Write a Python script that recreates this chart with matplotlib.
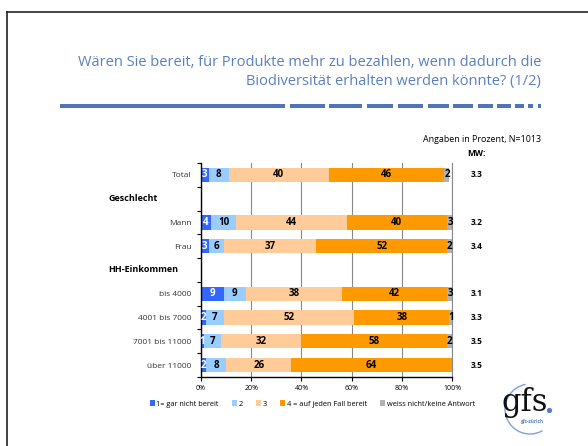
import matplotlib.pyplot as plt
from matplotlib.patches import Arc, Rectangle
from matplotlib.lines import Line2D

plt.rcParams['font.family'] = ['Open Sans', 'DejaVu Sans']

rows = ["Total", "", "Mann", "Frau", "", "bis 4000", "4001 bis 7000", "7001 bis 11000", "über 11000"]
headers = {1: "Geschlecht", 4: "HH-Einkommen"}
categories = ["1= gar nicht bereit", "2", "3", "4 = auf jeden Fall bereit", "weiss nicht/keine Antwort"]
s1 = [3, None, 4, 3, None, 9, 2, 1, 2]
s2 = [8, None, 10, 6, None, 9, 7, 7, 8]
s3 = [40, None, 44, 37, None, 38, 52, 32, 26]
s4 = [46, None, 40, 52, None, 42, 38, 58, 64]
s5 = [2, None, 3, 2, None, 3, 1, 2, 0]
mw = ["3.3", None, "3.2", "3.4", None, "3.1", "3.3", "3.5", "3.5"]
colors = ["#3366ff", "#99ccff", "#ffcc99", "#ff9900", "#b2b2b2"]

fig = plt.figure(figsize=(5.88, 4.46), dpi=100)

# slide frame
fig.add_artist(Line2D([7/588, 1], [1-12/446, 1-12/446], color="#222222", lw=1.2))
fig.add_artist(Line2D([7/588, 7/588], [0, 1-12/446], color="#222222", lw=1.2))

# title
title_col = "#5a7fc0"
fig.text(541/588, 1-62/446, "Wären Sie bereit, für Produkte mehr zu bezahlen, wenn dadurch die",
         ha="right", va="center", fontsize=10.5, color=title_col)
fig.text(541/588, 1-82/446, "Biodiversität erhalten werden könnte? (1/2)",
         ha="right", va="center", fontsize=10.5, color=title_col)

# dashed rule under title
line_col = "#4f74b8"
y_rule = 1-106/446
segs = [(60, 285), (290, 325), (329, 362), (367, 393), (398, 423), (428, 449), (453, 473),
        (478, 493), (497, 511), (515, 524), (528, 533), (538, 541)]
for a, b in segs:
    fig.add_artist(Rectangle((a/588, y_rule-2/446), (b-a)/588, 4/446, color=line_col, lw=0))

fig.text(541/588, 1-140/446, "Angaben in Prozent, N=1013", ha="right", va="center", fontsize=6.4)
fig.text(467/588, 1-153/446, "MW:", ha="left", va="center", fontsize=6, fontweight="bold")

ax = fig.add_axes([201/588, 1-377/446, 251/588, 214/446])
n = len(rows)
ypos = list(range(n))
series = [s1, s2, s3, s4, s5]
left = [0]*n
for k, s in enumerate(series):
    for i in range(n):
        if s[i] is None:
            continue
        ax.barh(ypos[i], s[i], left=left[i], height=0.6, color=colors[k], label=categories[k] if i == 0 else None)
        if s[i] > 0:
            ax.text(left[i] + s[i]/2, ypos[i], str(s[i]), ha="center", va="center", fontsize=7,
                    fontweight="bold", color="white" if k == 0 else "black")
        left[i] += s[i]

ax.set_xlim(0, 100)
ax.set_ylim(n-0.5, -0.5)
ax.set_xticks(range(0, 101, 20))
ax.set_xticklabels([f"{v}%" for v in range(0, 101, 20)], fontsize=5)
ax.set_yticks(ypos)
ax.set_yticklabels(rows, fontsize=6, color="#333333")
ax.tick_params(axis="y", length=0, pad=7)
ax.set_yticks([i+0.5 for i in range(-1, n)], minor=True)
ax.tick_params(axis="y", which="minor", length=3, width=0.8)
ax.tick_params(axis="x", length=3, width=0.8, pad=3)
ax.grid(axis="x", color="#888888", lw=0.8)
ax.set_axisbelow(True)
ax.spines["top"].set_visible(False)
ax.spines["right"].set_color("#888888")
ax.spines["left"].set_linewidth(1)
ax.spines["bottom"].set_linewidth(1)

for i, lab in headers.items():
    ax.text(-0.37, ypos[i], lab, transform=ax.get_yaxis_transform(), ha="left", va="center",
            fontsize=6.5, fontweight="bold")
for i, v in enumerate(mw):
    if v is not None:
        ax.text(1.075, ypos[i], v, transform=ax.get_yaxis_transform(), ha="left", va="center",
                fontsize=6, fontweight="bold")

fig.legend(loc="center left", bbox_to_anchor=(143/588, 1-404/446), ncol=5, fontsize=5.3,
           frameon=False, handlelength=0.7, handleheight=0.7, handletextpad=0.2,
           columnspacing=1.8)

# gfs logo
lax = fig.add_axes([494/588, 1-442/446, 64/588, 64/446])
lax.set_xlim(0, 64)
lax.set_ylim(0, 64)
lax.set_aspect("equal")
lax.axis("off")
lax.add_patch(Arc((36, 33), 50, 50, theta1=100, theta2=300, color="#7f9fe0", lw=1))
lax.text(31, 31, "gfs", ha="center", va="baseline", fontsize=22, family="DejaVu Serif", color="#111111")
lax.plot([55], [32], "o", color="#5a7fc0", ms=2.8)
lax.text(38, 21, "gfs-zürich", ha="center", va="center", fontsize=3.4, color="#5a7fc0", fontweight="bold")

fig.savefig("out.png", dpi=100)
